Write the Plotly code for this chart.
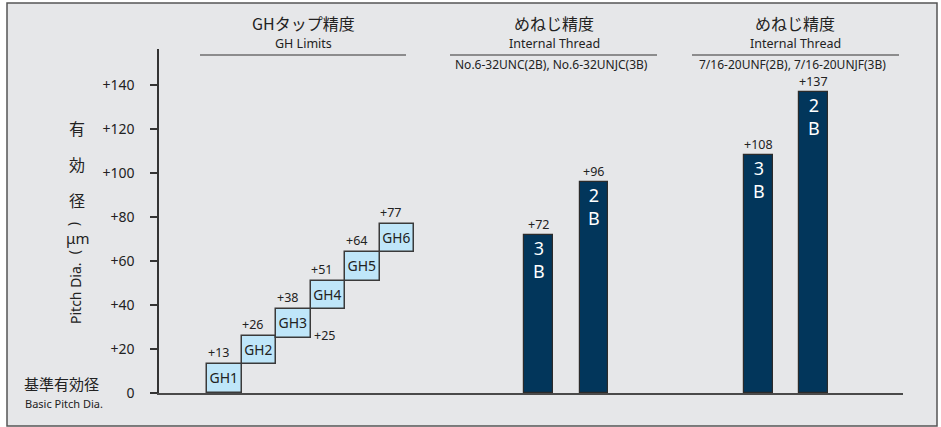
import plotly.graph_objects as go

# GH tap pitch-diameter limits (µm above basic)
gh_grades = ["GH1", "GH2", "GH3", "GH4", "GH5", "GH6"]
gh_low = [0, 13, 25, 38, 51, 64]
gh_high = [13, 26, 38, 51, 64, 77]

# Internal thread pitch-diameter upper limits (µm)
no6_classes = ["3B", "2B"]
no6_limits = [72, 96]
w716_classes = ["3B", "2B"]
w716_limits = [108, 137]

y_ticks = [0, 20, 40, 60, 80, 100, 120, 140]

# page geometry (pixels)
W, H = 941, 427
X_L, X_R, Y_T, Y_B = 159, 903, 49, 393
PX_PER_UM = 2.2

def pxx(xp):
    return (xp - X_L) / (X_R - X_L)

def pxy(yp):
    return (Y_B - yp) / (Y_B - Y_T)

BG = "#e6e7e9"
NAVY = "#02365b"
LIGHT = "#bfe6f9"
EDGE = "#3a3a3a"
TXT = "#222222"
FONT = "Noto Sans, Noto Sans CJK JP, sans-serif"
JP = "Noto Sans CJK JP, sans-serif"

gh_x0, gh_step = 207.3, 34.45
gh_x = [gh_x0 + gh_step * (i + 0.5) for i in range(len(gh_grades))]
no6_x = [538.7, 593.8]
w716_x = [758.5, 813.5]
bar_w = 28.6

fig = go.Figure()

fig.add_trace(go.Bar(
    x=gh_x, y=[h - l for h, l in zip(gh_high, gh_low)], base=gh_low,
    width=gh_step, marker=dict(color=LIGHT, line=dict(color=EDGE, width=1.5)),
    text=gh_grades, textposition="inside", insidetextanchor="middle",
    textangle=0, textfont=dict(size=14, color=TXT, family=FONT),
    hoverinfo="skip", showlegend=False,
))

for xs, vals in ((no6_x, no6_limits), (w716_x, w716_limits)):
    fig.add_trace(go.Bar(
        x=xs, y=vals, width=bar_w,
        marker=dict(color=NAVY, line=dict(color="#2b2b2b", width=1.2)),
        hoverinfo="skip", showlegend=False,
    ))

ann = []

def page_text(xp, yp, text, size, family=FONT, angle=0, xanchor="center"):
    ann.append(dict(x=pxx(xp), y=pxy(yp), xref="paper", yref="paper",
                    text=text, showarrow=False, textangle=angle,
                    xanchor=xanchor, yanchor="middle",
                    font=dict(size=size, color=TXT, family=family)))

# GH upper-limit labels
for x, hi in zip(gh_x, gh_high):
    ann.append(dict(x=x - gh_step / 2 + 11, y=hi, xref="x", yref="y",
                    text="+%d" % hi, showarrow=False, xanchor="center",
                    yanchor="bottom", yshift=1,
                    font=dict(size=12.5, color=TXT)))
# GH3 lower limit
ann.append(dict(x=gh_x[2] + gh_step / 2 + 1, y=gh_low[2], xref="x", yref="y",
                text="+%d" % gh_low[2], showarrow=False, xanchor="left",
                yanchor="middle", yshift=3, font=dict(size=12.5, color=TXT)))

# thread bar labels
for xs, vals, cls in ((no6_x, no6_limits, no6_classes),
                      (w716_x, w716_limits, w716_classes)):
    for x, v, c in zip(xs, vals, cls):
        ann.append(dict(x=x, y=v, xref="x", yref="y", text="+%d" % v,
                        showarrow=False, xanchor="center", yanchor="bottom",
                        yshift=0, font=dict(size=12.5, color=TXT)))
        ann.append(dict(x=x, y=v, xref="x", yref="y",
                        text="%s<br>%s" % (c[0], c[1]), showarrow=False,
                        xanchor="center", yanchor="top", yshift=1,
                        font=dict(size=18, color="white")))

# column headers
headers = [
    (303, "GHタップ精度", "GH Limits", None),
    (554, "めねじ精度", "Internal Thread", "No.6-32UNC(2B), No.6-32UNJC(3B)"),
    (795, "めねじ精度", "Internal Thread", "7/16-20UNF(2B), 7/16-20UNJF(3B)"),
]
for cx, jp, en, sub in headers:
    page_text(cx, 23, jp, 16, family=JP)
    page_text(cx, 44, en, 12.5)
    if sub:
        page_text(cx - 3, 65, sub, 12)

# y-axis title, set vertically (parentheses turned for vertical setting)
for ch, yp in (("有", 128), ("効", 164), ("径", 200)):
    page_text(77, yp, ch, 16, family=JP)
page_text(77, 224, "(", 14, angle=90)
page_text(77, 238, "μm", 15)
page_text(77, 252, ")", 14, angle=90)
page_text(75, 293, "Pitch Dia.", 14, angle=-90)

# basic pitch diameter note
page_text(22, 383, "基準有効径", 15, family=JP, xanchor="left")
page_text(23, 403, "Basic Pitch Dia.", 11, xanchor="left")

shapes = [
    dict(type="rect", xref="paper", yref="paper", layer="below",
         x0=pxx(7), x1=pxx(937), y0=pxy(426), y1=pxy(3),
         fillcolor=BG, line=dict(color="#555555", width=1.5)),
]
for x0, x1 in ((200, 406), (450, 657), (692, 899)):
    shapes.append(dict(type="line", xref="paper", yref="paper",
                       x0=pxx(x0), x1=pxx(x1), y0=pxy(55), y1=pxy(55),
                       line=dict(color="#333333", width=1.2)))

fig.update_layout(
    width=W, height=H,
    margin=dict(l=X_L, r=W - X_R, t=Y_T, b=H - Y_B, pad=0),
    paper_bgcolor="white", plot_bgcolor="rgba(0,0,0,0)",
    font=dict(family=FONT, color=TXT),
    barmode="overlay", bargap=0,
    xaxis=dict(range=[X_L, X_R], showgrid=False, zeroline=False,
               showticklabels=False, ticks="", showline=True,
               linecolor="#4a4a4a", linewidth=1.5, fixedrange=True),
    yaxis=dict(range=[0, (Y_B - Y_T) / PX_PER_UM], showgrid=False,
               zeroline=False, showline=True, linecolor="#333333",
               linewidth=1.5, ticks="outside", ticklen=7, tickwidth=1.5,
               tickcolor="#333333", tickvals=y_ticks,
               ticktext=["0" if v == 0 else "+%d" % v for v in y_ticks],
               tickfont=dict(size=14, color=TXT), ticklabelstandoff=13,
               fixedrange=True),
    annotations=ann, shapes=shapes,
)

fig.write_html("out.html")
